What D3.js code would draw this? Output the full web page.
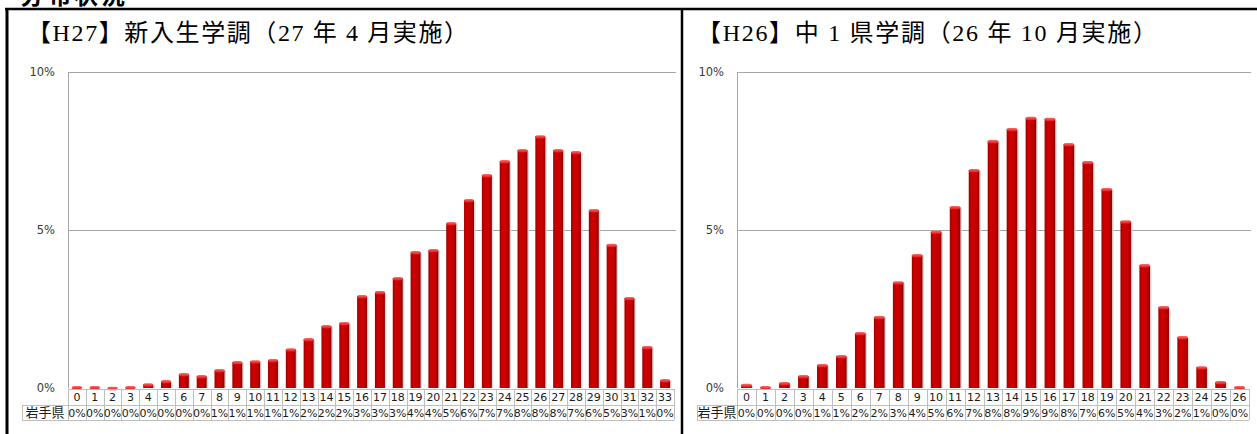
<!DOCTYPE html>
<html>
<head>
<meta charset="utf-8">
<script src="https://cdn.jsdelivr.net/npm/d3@7"></script>
<style>
  html, body { margin: 0; padding: 0; background: #fff; }
  svg { display: block; }
</style>
</head>
<body>
<svg id="chart" width="1257" height="434"></svg>
<script>
// Score distribution of 岩手県 students (percent of students per score)
const headingText = "分布状況";
const rowLabel = "岩手県";
const yTicks = [0, 5, 10];

const h27Title = "【H27】新入生学調（27 年 4 月実施）";
const h27Scores = [0, 1, 2, 3, 4, 5, 6, 7, 8, 9, 10, 11, 12, 13, 14, 15, 16,
                   17, 18, 19, 20, 21, 22, 23, 24, 25, 26, 27, 28, 29, 30, 31, 32, 33];
const h27Rates = [0.03, 0.03, 0.01, 0.03, 0.12, 0.22, 0.44, 0.38, 0.57, 0.82, 0.85, 0.89,
                  1.23, 1.55, 1.96, 2.06, 2.91, 3.04, 3.48, 4.30, 4.37, 5.22, 5.95, 6.74,
                  7.18, 7.53, 7.97, 7.53, 7.47, 5.63, 4.53, 2.85, 1.30, 0.25];

const h26Title = "【H26】中 1 県学調（26 年 10 月実施）";
const h26Scores = [0, 1, 2, 3, 4, 5, 6, 7, 8, 9, 10, 11, 12, 13, 14, 15, 16,
                   17, 18, 19, 20, 21, 22, 23, 24, 25, 26];
const h26Rates = [0.10, 0.03, 0.16, 0.38, 0.73, 1.01, 1.74, 2.25, 3.35, 4.21, 4.95, 5.73,
                  6.90, 7.82, 8.20, 8.55, 8.52, 7.72, 7.15, 6.30, 5.28, 3.89, 2.56, 1.61,
                  0.66, 0.19, 0.03];

const svg = d3.select("#chart");
const defs = svg.append("defs");

// bar body: darker edges, bright centre-left
const bodyGrad = defs.append("linearGradient").attr("id", "barBody")
  .attr("x1", "0").attr("x2", "1").attr("y1", "0").attr("y2", "0");
[["0%", "#a30000"], ["30%", "#cf0000"], ["70%", "#c40000"], ["100%", "#920000"]]
  .forEach(([o, c]) => bodyGrad.append("stop").attr("offset", o).attr("stop-color", c));
const capGrad = defs.append("linearGradient").attr("id", "barCap")
  .attr("x1", "0").attr("x2", "0").attr("y1", "0").attr("y2", "1");
[["0%", "#ff6a6a"], ["100%", "#e01818"]]
  .forEach(([o, c]) => capGrad.append("stop").attr("offset", o).attr("stop-color", c));

// page heading, running off the top edge
svg.append("text")
  .attr("x", 20).attr("y", 4)
  .attr("font-family", "'Noto Sans CJK JP', sans-serif")
  .attr("font-size", 24).attr("font-weight", "bold")
  .attr("letter-spacing", 3)
  .attr("fill", "#000")
  .text(headingText);

// frame lines
const frame = svg.append("g").attr("stroke", "#000").attr("fill", "none");
frame.append("line").attr("x1", 5).attr("x2", 1257).attr("y1", 9).attr("y2", 9).attr("stroke-width", 2.5);
frame.append("line").attr("x1", 7).attr("x2", 7).attr("y1", 8).attr("y2", 434).attr("stroke-width", 3);
frame.append("line").attr("x1", 682).attr("x2", 682).attr("y1", 8).attr("y2", 434).attr("stroke-width", 2.5);

const y = d3.scaleLinear().domain([0, 10]).range([388, 72]);

function drawPanel(cfg, title, scores, rates) {
  const g = svg.append("g");

  g.append("text")
    .attr("x", cfg.titleX).attr("y", 41)
    .attr("font-family", "'Liberation Serif', 'Noto Sans CJK JP', serif")
    .attr("font-size", 24)
    .attr("textLength", cfg.titleLen).attr("lengthAdjust", "spacing")
    .attr("fill", "#000")
    .text(title);

  const x = d3.scaleBand().domain(scores).range([cfg.left, cfg.right]).padding(0);
  const step = x.bandwidth();
  const barW = step * 0.56;

  // gridlines and value axis line
  g.selectAll("line.grid").data(yTicks.filter(t => t > 0)).join("line")
    .attr("class", "grid")
    .attr("x1", cfg.left).attr("x2", cfg.gridRight)
    .attr("y1", d => Math.round(y(d)) + 0.5).attr("y2", d => Math.round(y(d)) + 0.5)
    .attr("stroke", "#a6a6a6").attr("stroke-width", 1);
  g.append("line")
    .attr("x1", cfg.left + 0.5).attr("x2", cfg.left + 0.5)
    .attr("y1", y(10)).attr("y2", y(0))
    .attr("stroke", "#a6a6a6");

  g.selectAll("text.tick").data(yTicks).join("text")
    .attr("class", "tick")
    .attr("x", cfg.labelRight).attr("y", d => y(d) + 4)
    .attr("text-anchor", "end")
    .attr("font-family", "'DejaVu Sans', Verdana, sans-serif")
    .attr("font-size", 11.5)
    .attr("fill", "#3a3a3a")
    .text(d => d + "%");

  // bars with a soft shadow and a rounded bright top
  const bars = g.selectAll("g.bar").data(scores.map((s, i) => ({ s, v: rates[i] }))).join("g")
    .attr("class", "bar");
  bars.append("rect")
    .attr("x", d => x(d.s) + (step - barW) / 2 + 1.5)
    .attr("y", d => y(d.v) + 1)
    .attr("width", barW)
    .attr("height", d => Math.max(0, y(0) - y(d.v) - 1))
    .attr("fill", "#d9d9d9");
  bars.append("rect")
    .attr("x", d => x(d.s) + (step - barW) / 2)
    .attr("y", d => y(d.v))
    .attr("width", barW)
    .attr("height", d => y(0) - y(d.v))
    .attr("fill", "url(#barBody)");
  bars.append("rect")
    .attr("x", d => x(d.s) + (step - barW) / 2)
    .attr("y", d => y(d.v) - 1)
    .attr("width", barW)
    .attr("height", 3.5)
    .attr("rx", 2)
    .attr("fill", "url(#barCap)");

  // data table under the chart
  const rTop = 389, rMid = 405, rBot = 420;
  const t = g.append("g").attr("stroke", "#bfbfbf").attr("stroke-width", 1);
  t.append("line").attr("x1", cfg.left).attr("x2", cfg.right).attr("y1", rTop + 0.5).attr("y2", rTop + 0.5);
  t.append("line").attr("x1", cfg.rowLeft).attr("x2", cfg.right).attr("y1", rMid + 0.5).attr("y2", rMid + 0.5);
  t.append("line").attr("x1", cfg.rowLeft).attr("x2", cfg.right).attr("y1", rBot + 0.5).attr("y2", rBot + 0.5);
  t.append("line").attr("x1", cfg.rowLeft + 0.5).attr("x2", cfg.rowLeft + 0.5).attr("y1", rMid).attr("y2", rBot);
  t.selectAll("line.col").data(scores.concat(["end"])).join("line")
    .attr("class", "col")
    .attr("x1", d => Math.round(d === "end" ? cfg.right : x(d)) + 0.5)
    .attr("x2", d => Math.round(d === "end" ? cfg.right : x(d)) + 0.5)
    .attr("y1", rTop).attr("y2", rBot);

  const font = "'DejaVu Sans', Verdana, sans-serif";
  g.selectAll("text.cat").data(scores).join("text")
    .attr("class", "cat")
    .attr("x", d => x(d) + step / 2).attr("y", rTop + 12)
    .attr("text-anchor", "middle")
    .attr("font-family", font).attr("font-size", 11)
    .attr("fill", "#1a1a1a")
    .text(d => d);
  g.selectAll("text.val").data(rates).join("text")
    .attr("class", "val")
    .attr("x", (d, i) => x(scores[i]) + step / 2).attr("y", rMid + 11.5)
    .attr("text-anchor", "middle")
    .attr("font-family", font).attr("font-size", 11)
    .attr("fill", "#1a1a1a")
    .text(d => Math.round(d) + "%");
  g.append("text")
    .attr("x", (cfg.rowLeft + cfg.left) / 2).attr("y", rMid + 12)
    .attr("text-anchor", "middle")
    .attr("font-family", "'Noto Sans CJK JP', sans-serif").attr("font-size", 13)
    .attr("fill", "#1a1a1a")
    .text(rowLabel);
}

drawPanel({ titleX: 27, titleLen: 441, left: 68, right: 674, gridRight: 676,
            labelRight: 55, rowLeft: 22 }, h27Title, h27Scores, h27Rates);
drawPanel({ titleX: 697, titleLen: 460, left: 737, right: 1249, gridRight: 1251,
            labelRight: 724, rowLeft: 697 }, h26Title, h26Scores, h26Rates);
</script>
</body>
</html>
